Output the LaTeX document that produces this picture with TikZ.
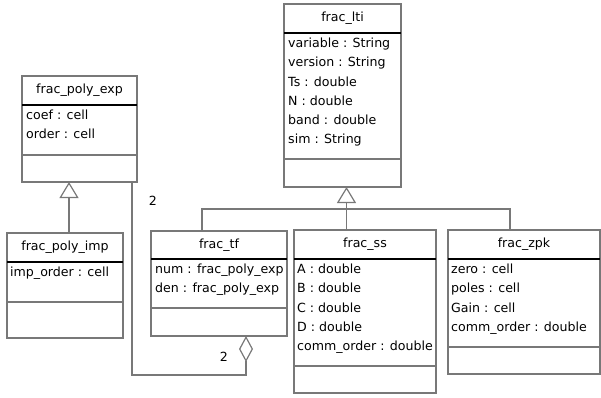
\documentclass[tikz,border=0pt]{standalone}
\usepackage{fontspec}
\setmainfont{DejaVu Sans}
\usepackage{tikz}
\definecolor{edgegray}{RGB}{120, 120, 120}
\usetikzlibrary{positioning,calc,arrows.meta}

\begin{document}
\begin{tikzpicture}[
    x=1pt, y=-1pt,
    font=\fontsize{12.6}{19.2}\selectfont,
    box/.style={
        rectangle,
        draw=edgegray,
        line width=1.2pt,
        outer sep=0pt,
        inner sep=0pt
    },
    titlebox/.style={box, minimum height=29, anchor=north west},
    attrbox/.style={box, append after command={
        (\tikzlastnode.north west) edge[sep] (\tikzlastnode.north east)
        (\tikzlastnode.south west) edge[sep] (\tikzlastnode.south east)}},
    attrs/.style={align=left, inner sep=0pt, anchor=north west},
    sep/.style={black, line width=2pt},
    link/.style={edgegray, line width=1.2pt},
    inherit/.style={link, -{Triangle[open, length=16pt, width=19pt, line width=1.2pt]}},
    aggr/.style={link, -{Diamond[open, length=26pt, width=14pt, line width=1.2pt]}}
]
    \useasboundingbox (0,0) rectangle (601,397);

    % frac_lti
    \node[titlebox, minimum width=117] (lti) at (284,4) {frac\_lti};
    \node[attrbox, minimum width=117, minimum height=126, below=0pt of lti] (lti-a) {};
    \node[box, minimum width=117, minimum height=28, below=0pt of lti-a] (lti-m) {};
    \node[attrs] at ($(lti-a.north west)+(4,5)$) {variable : String\\version : String\\Ts : double\\N : double\\band : double\\sim : String};

    % frac_poly_exp
    \node[titlebox, minimum width=115] (pexp) at (22,76) {frac\_poly\_exp};
    \node[attrbox, minimum width=115, minimum height=50, below=0pt of pexp] (pexp-a) {};
    \node[box, minimum width=115, minimum height=27, below=0pt of pexp-a] (pexp-m) {};
    \node[attrs] at ($(pexp-a.north west)+(4,5)$) {coef : cell\\order : cell};

    % frac_poly_imp
    \node[titlebox, minimum width=116] (pimp) at (7,233) {frac\_poly\_imp};
    \node[attrbox, minimum width=116, minimum height=40, below=0pt of pimp] (pimp-a) {};
    \node[box, minimum width=116, minimum height=36, below=0pt of pimp-a] (pimp-m) {};
    \node[attrs] at ($(pimp-a.north west)+(3,5)$) {imp\_order : cell};

    % frac_tf
    \node[titlebox, minimum width=136, minimum height=28] (tf) at (151,231) {frac\_tf};
    \node[attrbox, minimum width=136, minimum height=49, below=0pt of tf] (tf-a) {};
    \node[box, minimum width=136, minimum height=28, below=0pt of tf-a] (tf-m) {};
    \node[attrs] at ($(tf-a.north west)+(4,5)$) {num : frac\_poly\_exp\\den : frac\_poly\_exp};

    % frac_ss
    \node[titlebox, minimum width=142] (ss) at (294,230) {frac\_ss};
    \node[attrbox, minimum width=142, minimum height=107, below=0pt of ss] (ss-a) {};
    \node[box, minimum width=142, minimum height=27, below=0pt of ss-a] (ss-m) {};
    \node[attrs] at ($(ss-a.north west)+(3,5)$) {A : double\\B : double\\C : double\\D : double\\comm\_order : double};

    % frac_zpk
    \node[titlebox, minimum width=152] (zpk) at (448,230) {frac\_zpk};
    \node[attrbox, minimum width=152, minimum height=88, below=0pt of zpk] (zpk-a) {};
    \node[box, minimum width=152, minimum height=27, below=0pt of zpk-a] (zpk-m) {};
    \node[attrs] at ($(zpk-a.north west)+(3,5)$) {zero : cell\\poles : cell\\Gain : cell\\comm\_order : double};

    % Generalizations
    \coordinate (bus) at ($(lti-m.south)+(4,22)$);
    \draw[inherit] ([xshift=4pt]pimp.north) -- ([xshift=4pt]pimp.north |- pexp-m.south);
    \draw[link] ([xshift=-17pt]tf.north) |- (bus) -| ([xshift=-14pt]zpk.north);
    \draw[inherit] (ss.north -| bus) -- (bus |- lti-m.south);

    % Aggregation
    \coordinate (aggcorner) at ($(pexp-m.south east)+(-5,193)$);
    \draw[aggr] ([xshift=-5pt]pexp-m.south east) -- (aggcorner) -| ([xshift=27pt]tf-m.south);
    \node (n-exp) at (153,201) {2};
    \node (n-tf) at (224,357) {2};
\end{tikzpicture}
\end{document}
